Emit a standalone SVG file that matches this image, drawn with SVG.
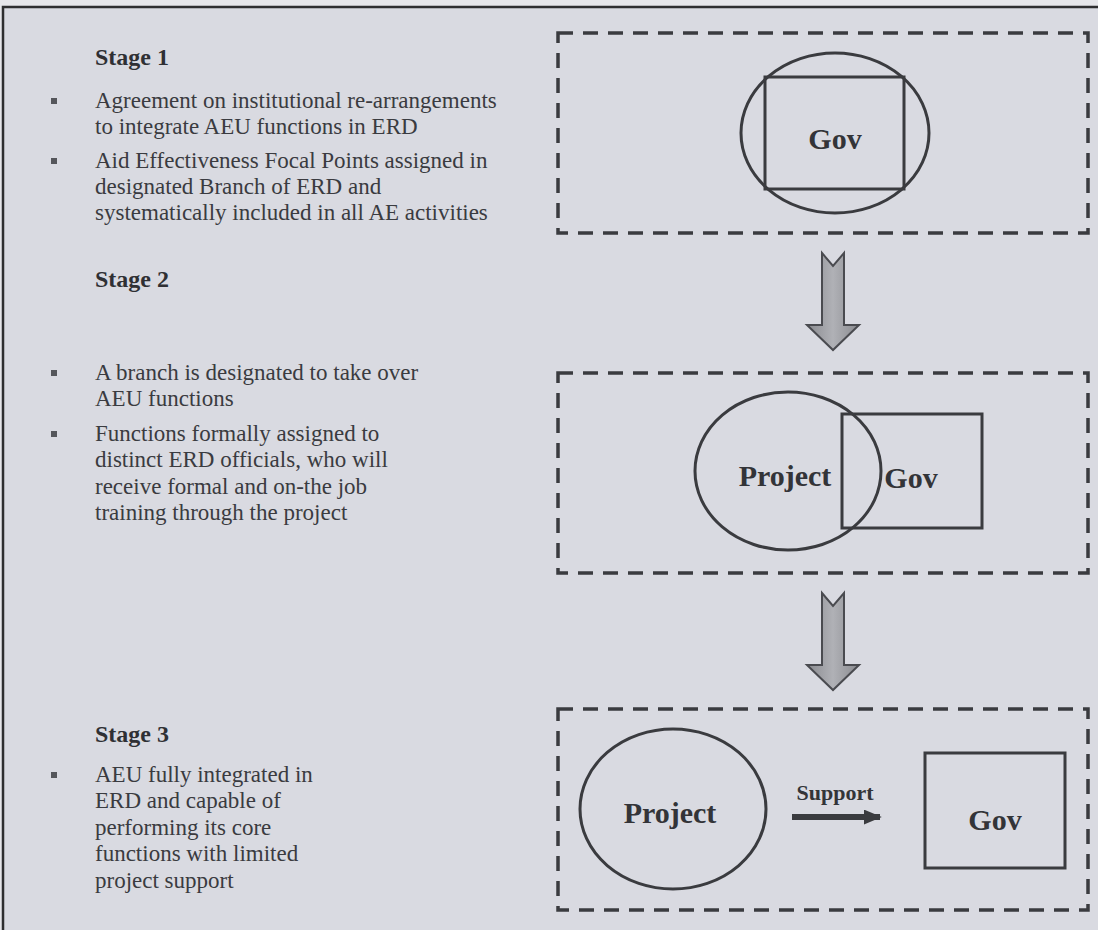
<svg xmlns="http://www.w3.org/2000/svg" width="1098" height="930" viewBox="0 0 1098 930">
<style>
.page{fill:#e6e6ea}
.bg{fill:#d9dae1;stroke:#2e2e30;stroke-width:2.5}
.dash{fill:none;stroke:#3a3b3f;stroke-width:3.5;stroke-dasharray:15 10}
.shape{fill:none;stroke:#3a3b3f;stroke-width:3}
.head{font-family:"Liberation Serif",serif;font-weight:bold;font-size:24px;fill:#2f3034}
.body{font-family:"Liberation Serif",serif;font-size:23px;fill:#3a3b40}
.lbl{font-family:"Liberation Serif",serif;font-weight:bold;font-size:30px;fill:#333438;text-anchor:middle}
.sup{font-family:"Liberation Serif",serif;font-weight:bold;font-size:22px;fill:#333438;text-anchor:middle}
.blk{fill:url(#g);stroke:#4a4b50;stroke-width:2}
.bul{fill:#55565b}
</style>
<defs>
<linearGradient id="g" x1="0" y1="0" x2="1" y2="0">
<stop offset="0" stop-color="#8a8b90"/>
<stop offset="0.5" stop-color="#b0b1b6"/>
<stop offset="1" stop-color="#8a8b90"/>
</linearGradient>
<marker id="ah" viewBox="0 0 10 10" refX="9" refY="5" markerWidth="3" markerHeight="2.5" orient="auto" markerUnits="strokeWidth" preserveAspectRatio="none">
<path d="M0,0 L10,5 L0,10 z" fill="#3a3b3f"/>
</marker>
</defs>
<rect class="page" x="0" y="0" width="1098" height="930"/>
<rect class="bg" x="3" y="7" width="1100" height="930"/>

<g id="stage1-text">
<text class="head" x="95" y="65">Stage 1</text>
<rect class="bul" x="51" y="98" width="6" height="6"/>
<text class="body" x="95" y="108">Agreement on institutional re-arrangements</text>
<text class="body" x="95" y="134">to integrate AEU functions in ERD</text>
<rect class="bul" x="51" y="158" width="6" height="6"/>
<text class="body" x="95" y="168">Aid Effectiveness Focal Points assigned in</text>
<text class="body" x="95" y="194">designated Branch of ERD and</text>
<text class="body" x="95" y="220">systematically included in all AE activities</text>
</g>

<g id="stage2-text">
<text class="head" x="95" y="287">Stage 2</text>
<rect class="bul" x="51" y="370" width="6" height="6"/>
<text class="body" x="95" y="380">A branch is designated to take over</text>
<text class="body" x="95" y="406">AEU functions</text>
<rect class="bul" x="51" y="431" width="6" height="6"/>
<text class="body" x="95" y="441">Functions formally assigned to</text>
<text class="body" x="95" y="467">distinct ERD officials, who will</text>
<text class="body" x="95" y="494">receive formal and on-the job</text>
<text class="body" x="95" y="520">training through the project</text>
</g>

<g id="stage3-text">
<text class="head" x="95" y="742">Stage 3</text>
<rect class="bul" x="51" y="772" width="6" height="6"/>
<text class="body" x="95" y="782">AEU fully integrated in</text>
<text class="body" x="95" y="808">ERD and capable of</text>
<text class="body" x="95" y="835">performing its core</text>
<text class="body" x="95" y="861">functions with limited</text>
<text class="body" x="95" y="888">project support</text>
</g>

<g id="stage1-box">
<rect class="dash" x="558" y="33" width="530" height="200"/>
<ellipse class="shape" cx="835" cy="133" rx="94" ry="80"/>
<rect class="shape" x="765" y="77" width="139" height="112"/>
<text class="lbl" x="835" y="149">Gov</text>
</g>

<g id="stage2-box">
<rect class="dash" x="558" y="373" width="530" height="200"/>
<ellipse class="shape" cx="788" cy="471" rx="93" ry="79"/>
<rect class="shape" x="842" y="414" width="140" height="114"/>
<text class="lbl" x="785" y="486">Project</text>
<text class="lbl" x="911" y="488">Gov</text>
</g>

<g id="stage3-box">
<rect class="dash" x="558" y="709" width="530" height="201"/>
<ellipse class="shape" cx="673" cy="809" rx="93" ry="80"/>
<rect class="shape" x="925" y="753" width="140" height="115"/>
<text class="lbl" x="670" y="823">Project</text>
<text class="lbl" x="995" y="830">Gov</text>
<text class="sup" x="835" y="800">Support</text>
</g>

<g id="connectors">
<path class="blk" d="M822,253 L833,266 L844,253 L844,325 L859,325 L833,350 L807,325 L822,325 Z"/>
<path class="blk" d="M822,593 L833,606 L844,593 L844,665 L859,665 L833,690 L807,665 L822,665 Z"/>
<line x1="792" y1="817" x2="880" y2="817" stroke="#3a3b3f" stroke-width="6" marker-end="url(#ah)"/>
</g>
</svg>
